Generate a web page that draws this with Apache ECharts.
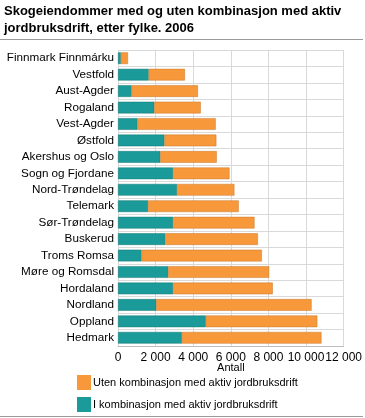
<!DOCTYPE html>
<html>
<head>
<meta charset="utf-8">
<script src="https://cdn.jsdelivr.net/npm/echarts@6/dist/echarts.min.js"></script>
<style>
html,body{margin:0;padding:0;background:#fff;}
#c{width:365px;height:418px;}
</style>
</head>
<body>
<div id="c"></div>
<script>
const categories = ['Finnmark Finnmárku','Vestfold','Aust-Agder','Rogaland','Vest-Agder','Østfold','Akershus og Oslo','Sogn og Fjordane','Nord-Trøndelag','Telemark','Sør-Trøndelag','Buskerud','Troms Romsa','Møre og Romsdal','Hordaland','Nordland','Oppland','Hedmark'];
const medKombinasjon = [150,1630,720,1930,1035,2470,2250,2930,3140,1600,2930,2510,1250,2670,2930,2035,4670,3400];
const utenKombinasjon = [380,1930,3530,2470,4160,2760,3000,3000,3050,4820,4330,4930,6400,5370,5300,8260,5930,7420];
const xTicks = [0,2000,4000,6000,8000,10000,12000];
const seriesNames = ['I kombinasjon med aktiv jordbruksdrift','Uten kombinasjon med aktiv jordbruksdrift'];
const titleLines = ['Skogeiendommer med og uten kombinasjon med aktiv','jordbruksdrift, etter fylke. 2006'];
const axisName = 'Antall';

const teal = '#1a9a98';
const orange = '#f7993a';
const font = '"Liberation Sans", Arial, sans-serif';

const chart = echarts.init(document.getElementById('c'), null, {renderer:'canvas'});
chart.setOption({
  animation:false,
  textStyle:{fontFamily:font},
  title:{
    text: titleLines.join('\n'),
    left:4, top:3, padding:0,
    textStyle:{fontFamily:font,fontSize:13,fontWeight:'bold',color:'#000',lineHeight:17}
  },
  graphic:[
    {type:'line',shape:{x1:0,y1:39.5,x2:363,y2:39.5},style:{stroke:'#9a9a9a',lineWidth:1}},
    {type:'line',shape:{x1:0,y1:416.5,x2:363,y2:416.5},style:{stroke:'#9a9a9a',lineWidth:1}}
  ],
  legend:{
    data:[seriesNames[1],seriesNames[0]],
    orient:'vertical',
    left:77, top:375, padding:0,
    itemWidth:14, itemHeight:15, itemGap:7,
    icon:'rect',
    itemStyle:{borderWidth:0},
    textStyle:{fontFamily:font,fontSize:11,color:'#000',padding:[0,0,0,-3]},
    selectedMode:false
  },
  grid:{left:118,right:19,top:50,bottom:72,containLabel:false},
  xAxis:{
    type:'value', min:0, max:12000, interval:2000,
    name:axisName, nameLocation:'middle', nameGap:16, nameMoveOverlap:false,
    nameTextStyle:{fontFamily:font,fontSize:11,color:'#000'},
    axisLine:{show:true,lineStyle:{color:'#bdbdbd'}},
    axisTick:{show:false},
    axisLabel:{fontFamily:font,fontSize:12,color:'#000',margin:6,
      formatter:v=>String(v).replace(/\B(?=(\d{3})+(?!\d))/g,' ')},
    splitLine:{show:true,lineStyle:{color:'#d9d9d9',width:1}}
  },
  yAxis:{
    type:'category', data:categories, inverse:true,
    axisLine:{show:false},
    axisTick:{show:false},
    axisLabel:{fontFamily:font,fontSize:11.7,color:'#000',margin:4},
    splitLine:{show:true,lineStyle:{color:'#d9d9d9',width:1}}
  },
  series:[
    {name:seriesNames[0],type:'bar',stack:'a',data:medKombinasjon,barCategoryGap:'29%',
     itemStyle:{color:teal,borderColor:'#147a78',borderWidth:0.5}},
    {name:seriesNames[1],type:'bar',stack:'a',data:utenKombinasjon,barCategoryGap:'29%',
     itemStyle:{color:orange,borderColor:'#c8772c',borderWidth:0.5}}
  ]
});
</script>
</body>
</html>
